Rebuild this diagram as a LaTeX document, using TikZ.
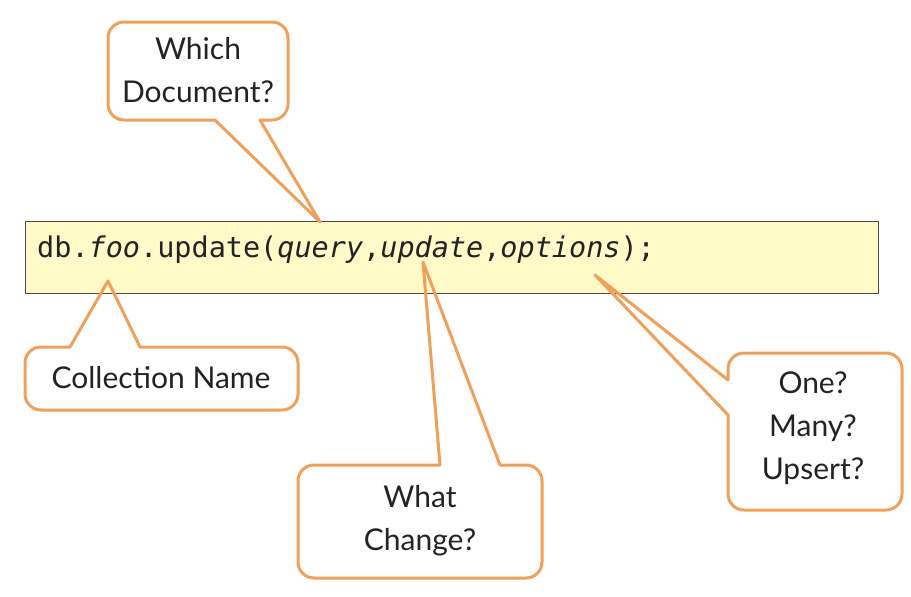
\documentclass[tikz,border=0pt]{standalone}
\usepackage{fontspec}
\setmainfont{Lato}
\setmonofont{DejaVu Sans Mono}[ItalicFont={DejaVu Sans Mono Oblique}]
\definecolor{callo}{RGB}{240,160,90}
\definecolor{codebg}{RGB}{255,250,200}
\definecolor{ink}{RGB}{35,35,35}
\begin{document}
\begin{tikzpicture}[x=1pt,y=-1pt,
  callout/.style={draw=callo,line width=3pt,line join=round},
  lbl/.style={font=\fontsize{30}{43}\selectfont,text=ink,align=center,inner sep=0pt}]
\useasboundingbox[fill=white] (0,0) rectangle (911,597);
\node[draw=black!70,fill=codebg,line width=1.2pt,minimum width=853pt,minimum height=72pt,inner sep=0pt,anchor=north west] (code) at (25,221) {};
\node[anchor=base west,inner sep=0pt,font=\ttfamily\fontsize{28.5}{30}\selectfont,text=ink] (txt) at (37,257) {db.\textit{foo}.update(\textit{query},\textit{update},\textit{options});};
\coordinate (tipA) at (320,222);
\coordinate (tipB) at (108,281);
\coordinate (tipC) at (423,262);
\coordinate (tipD) at (595,275);
\draw[callout] (288,70) [rounded corners=16pt] -- (288,22) -- (108,22) -- (108,120) [sharp corners] -- (215,120) -- (tipA) -- (260,120) [rounded corners=16pt] -- (288,120) -- cycle;
\draw[callout] (25,380) [rounded corners=16pt] -- (25,347) [sharp corners] -- (70,347) -- (tipB) -- (140,347) [rounded corners=16pt] -- (298,347) -- (298,410) -- (25,410) -- cycle;
\draw[callout] (298,520) [rounded corners=16pt] -- (298,465) [sharp corners] -- (440,465) -- (tipC) -- (500,465) [rounded corners=16pt] -- (542,465) -- (542,578) -- (298,578) -- cycle;
\draw[callout] (815,353) [rounded corners=16pt] -- (902,353) -- (902,510) -- (728,510) [sharp corners] -- (728,415) -- (tipD) -- (728,380) [rounded corners=16pt] -- (728,353) -- cycle;
\node[lbl] (qA) at (198,70) {Which\\Document?};
\node[lbl] (qB) at (161,378) {Collection Name};
\node[lbl] (qC) at (420,521) {What\\Change?};
\node[lbl] (qD) at (813,428) {One?\\Many?\\Upsert?};
\end{tikzpicture}
\end{document}
